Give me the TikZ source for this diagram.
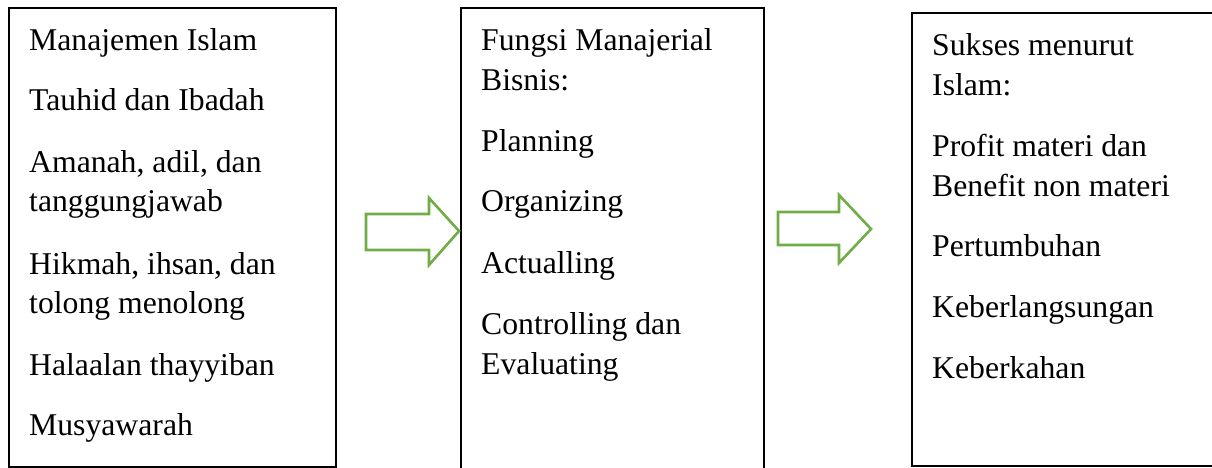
\documentclass[tikz,border=0pt]{standalone}
\usepackage{fontspec}
\setmainfont{Liberation Serif}
\definecolor{arrowgreen}{RGB}{112,173,71}
\begin{document}
\begin{tikzpicture}[x=1pt,y=-1pt,
  boxframe/.style={draw=black,line width=1.4pt},
  itemtext/.style={anchor=base west,inner sep=0pt,font=\fontsize{31.7}{38}\selectfont},
  blockarrow/.style={draw=arrowgreen,line width=2.6pt,fill=white,line join=miter}]
\useasboundingbox (0,0) rectangle (1212,468);
% boxes
\draw[boxframe] (9,8) rectangle (336,467);
\draw[boxframe] (461,8) rectangle (764,475);
\draw[boxframe] (912,13) rectangle (1216,466);
% box 1 text
\node[itemtext] (a1) at (29,51) {Manajemen Islam};
\node[itemtext] (a2) at (29,111) {Tauhid dan Ibadah};
\node[itemtext] (a3) at (29,172) {Amanah, adil, dan};
\node[itemtext] (a4) at (29,211) {tanggungjawab};
\node[itemtext] (a5) at (29,274) {Hikmah, ihsan, dan};
\node[itemtext] (a6) at (29,313) {tolong menolong};
\node[itemtext] (a7) at (29,375) {Halaalan thayyiban};
\node[itemtext] (a8) at (29,435) {Musyawarah};
% box 2 text
\node[itemtext] (b1) at (481,51) {Fungsi Manajerial};
\node[itemtext] (b2) at (481,91) {Bisnis:};
\node[itemtext] (b3) at (481,151) {Planning};
\node[itemtext] (b4) at (481,211) {Organizing};
\node[itemtext] (b5) at (481,273) {Actualling};
\node[itemtext] (b6) at (481,334) {Controlling dan};
\node[itemtext] (b7) at (481,374) {Evaluating};
% box 3 text
\node[itemtext] (c1) at (932,56) {Sukses menurut};
\node[itemtext] (c2) at (932,96) {Islam:};
\node[itemtext] (c3) at (932,157) {Profit materi dan};
\node[itemtext] (c4) at (932,196) {Benefit non materi};
\node[itemtext] (c5) at (932,256) {Pertumbuhan};
\node[itemtext] (c6) at (932,317) {Keberlangsungan};
\node[itemtext] (c7) at (932,378) {Keberkahan};
% block arrows
\draw[blockarrow] (366,214) -- (429,214) -- (429,198) -- (459,231) -- (429,265) -- (429,250) -- (366,250) -- cycle;
\draw[blockarrow] (778,212) -- (839,212) -- (839,195) -- (871,229) -- (839,263) -- (839,245) -- (778,245) -- cycle;
\end{tikzpicture}
\end{document}
